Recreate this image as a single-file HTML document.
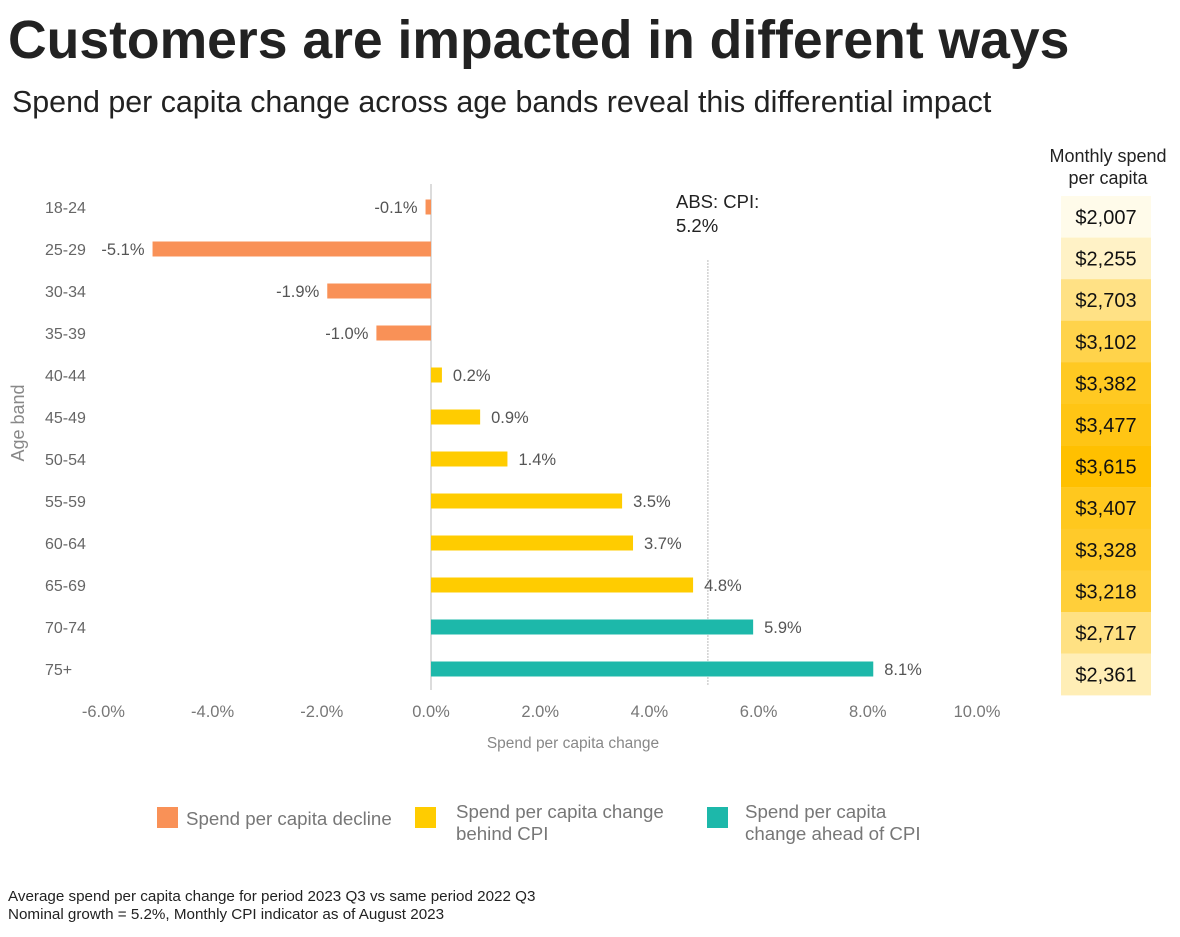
<!DOCTYPE html>
<html><head><meta charset="utf-8">
<style>
body{margin:0;background:#fff;font-family:"Liberation Sans",Arial,sans-serif;}
svg text{font-family:"Liberation Sans",Arial,sans-serif;}
</style></head>
<body>
<svg id="c" width="1180" height="932" viewBox="0 0 1180 932" xmlns="http://www.w3.org/2000/svg">
<text x="8" y="58" font-size="53.5" font-weight="bold" fill="#222">Customers are impacted in different ways</text>
<text x="12" y="112" font-size="30.4" fill="#222">Spend per capita change across age bands reveal this differential impact</text>
<text x="1108" y="162" font-size="18" fill="#222" text-anchor="middle">Monthly spend</text>
<text x="1108" y="184" font-size="18" fill="#222" text-anchor="middle">per capita</text>
<text x="24" y="423" font-size="18" fill="#888" text-anchor="middle" transform="rotate(-90 24 423)">Age  band</text>
<text x="573" y="748" font-size="15.5" fill="#888" text-anchor="middle">Spend per capita change</text>
<text x="676" y="208" font-size="18.5" fill="#222">ABS: CPI:</text>
<text x="676" y="232" font-size="18.5" fill="#222">5.2%</text>
<g>
<rect x="157" y="807" width="21" height="21" fill="#F99157"/>
<text x="186" y="825" font-size="18.7" fill="#777">Spend per capita decline</text>
<rect x="415" y="807" width="21" height="21" fill="#FFCC00"/>
<text x="456" y="818" font-size="18.7" fill="#777">Spend per capita change</text>
<text x="456" y="840" font-size="18.7" fill="#777">behind CPI</text>
<rect x="707" y="807" width="21" height="21" fill="#1DB8AA"/>
<text x="745" y="818" font-size="18.7" fill="#777">Spend per capita</text>
<text x="745" y="840" font-size="18.7" fill="#777">change ahead of CPI</text>
</g>
<text x="8" y="901" font-size="15.2" fill="#222">Average spend per capita change for period 2023 Q3 vs same period 2022 Q3</text>
<text x="8" y="919" font-size="15.2" fill="#222">Nominal growth = 5.2%, Monthly CPI indicator as of August 2023</text>
</svg>
<script>
const categories=["18-24","25-29","30-34","35-39","40-44","45-49","50-54","55-59","60-64","65-69","70-74","75+"];
const changes=[-0.1,-5.1,-1.9,-1.0,0.2,0.9,1.4,3.5,3.7,4.8,5.9,8.1];
const spend=[2007,2255,2703,3102,3382,3477,3615,3407,3328,3218,2717,2361];
const xTicks=[-6,-4,-2,0,2,4,6,8,10];
const cpi=5.2;
const NS="http://www.w3.org/2000/svg";
const svg=document.getElementById('c');
const x=v=>431+(v)*54.6;
const y=i=>207+i*42;
function el(t,a,txt){const e=document.createElementNS(NS,t);for(const k in a)e.setAttribute(k,a[k]);if(txt!=null)e.textContent=txt;svg.appendChild(e);return e;}
let ax=el('line',{x1:x(0),x2:x(0),y1:184,y2:690,stroke:'#d0d0d0','stroke-width':1.5});


let cl=el('line',{x1:x(cpi)-7,x2:x(cpi)-7,y1:260,y2:685,stroke:'#aaa','stroke-width':0.8,'stroke-dasharray':'2,1'});


xTicks.forEach(t=>{
 const e=el('text',{x:x(t),y:717,'font-size':16.5,fill:'#777','text-anchor':'middle'},t.toFixed(1)+'%');
 
 
});
categories.forEach((c,i)=>{
 const cy=y(i);
 const lt=el('text',{x:45,y:cy+6,'font-size':16,fill:'#666'},c);
 
 
 const v=changes[i];
 const col=v<0?'#F99157':(v<cpi?'#FFCC00':'#1DB8AA');
 const x0=Math.min(x(0),x(v)),w=Math.abs(x(v)-x(0));
 const b=el('rect',{x:x0,y:cy-7.5,width:w,height:15,fill:col});
 
 
 const lx=v<0?x(v)-8:x(v)+11;
 const vt=el('text',{x:lx,y:cy+6,'font-size':16.5,fill:'#555','text-anchor':v<0?'end':'start'},v.toFixed(1)+'%');
 
 
});
const smin=2000,smax=3615;
function heat(s){const t=(s-smin)/(smax-smin);const g=Math.round(251-t*(251-192));const b=Math.round(235-t*235);return `rgb(255,${g},${b})`;}
spend.forEach((s,i)=>{
 const top=196+i*41.6;
 const r=el('rect',{x:1061,y:top,width:90,height:41.8,fill:heat(s)});
 
 
 const t=el('text',{x:1106,y:top+28,'font-size':20,fill:'#111','text-anchor':'middle'},'$'+s.toLocaleString('en-US'));
 
 
});
</script>
</body></html>
